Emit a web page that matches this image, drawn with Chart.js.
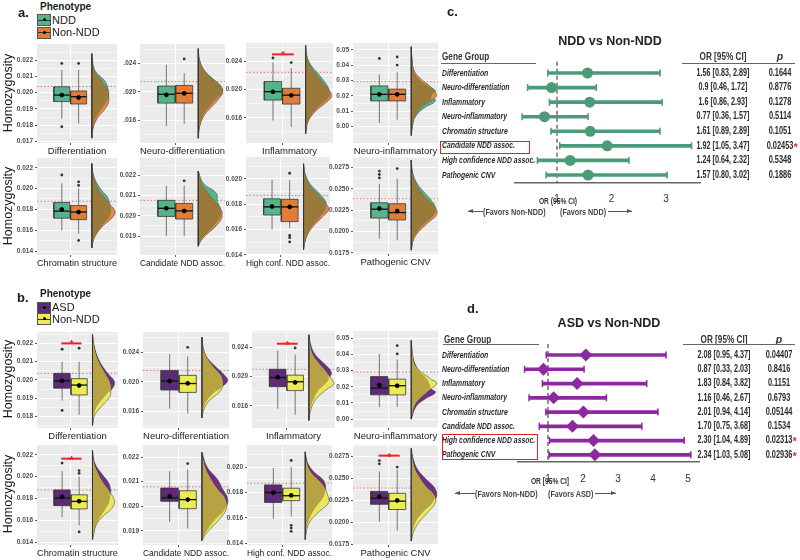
<!DOCTYPE html>
<html lang="en">
<head>
<meta charset="UTF-8">
<title>Homozygosity by phenotype and gene group odds ratios</title>
<script src="https://cdn.jsdelivr.net/npm/chart.js"></script>
<style>
  body { margin: 0; background: #fff; }
  #fig { position: relative; width: 800px; height: 560px; overflow: hidden; font-family: "Liberation Sans", Arial, sans-serif; }
  #fig canvas { position: absolute; }
  .t { position: absolute; white-space: nowrap; color: #1a1a1a; line-height: 1; }
  .key { position: absolute; width: 12px; height: 10px; border: 1px solid #555; }
  .key::before { content: ''; position: absolute; left: 0; right: 0; top: 4.5px; border-top: 1px solid #333; }
  .key::after { content: ''; position: absolute; left: 4.5px; top: 3px; width: 3px; height: 3px; background: #000; border-radius: 50%; }
  .hl { position: absolute; border: 1.5px solid #e3221c; }
  .rule { position: absolute; height: 0; border-top: 1px solid #666; }
  .arr { position: absolute; height: 0; border-top: 1px solid #555; }
</style>
</head>
<body>
<div id="fig"></div>
<script>
const FONT = '"Liberation Sans", Arial, sans-serif';

// ---------- panel a : NDD vs Non-NDD ----------
const panelTitles = ['Differentiation', 'Neuro-differentiation', 'Inflammatory', 'Neuro-inflammatory',
  'Chromatin structure', 'Candidate NDD assoc.', 'High conf. NDD assoc.', 'Pathogenic CNV'];

const yRangeA = [[0.0169, 0.0230], [0.01283, 0.02676], [0.01242, 0.02665], [-0.0109, 0.0545],
  [0.01363, 0.02294], [0.01807, 0.02285], [0.01399, 0.02174], [0.01735, 0.02877]];
const yTicksA = [
  [0.017, 0.018, 0.019, 0.020, 0.021, 0.022],
  [0.016, 0.020, 0.024],
  [0.016, 0.020, 0.024],
  [0.00, 0.01, 0.02, 0.03, 0.04, 0.05],
  [0.014, 0.016, 0.018, 0.020, 0.022],
  [0.019, 0.020, 0.021, 0.022],
  [0.014, 0.016, 0.018, 0.020],
  [0.0175, 0.0200, 0.0225, 0.0250, 0.0275]];
const yTickLabelsA = [
  ['0.017', '0.018', '0.019', '0.020', '0.021', '0.022'],
  ['.016', '.020', '.024'],
  ['0.016', '0.020', '0.024'],
  ['0.00', '0.01', '0.02', '0.03', '0.04', '0.05'],
  ['0.014', '0.016', '0.018', '0.020', '0.022'],
  ['0.019', '0.020', '0.021', '0.022'],
  ['0.014', '0.016', '0.018', '0.020'],
  ['0.0175', '0.0200', '0.0225', '0.0250', '0.0275']];

// box stats: [lower whisker, q1, median, q3, upper whisker]
const boxNDD = [
  [0.0184, 0.01945, 0.01985, 0.02036, 0.0214],
  [0.01517, 0.01844, 0.01968, 0.02083, 0.02382],
  [0.01562, 0.01852, 0.01972, 0.02116, 0.02386],
  [0.0021, 0.0166, 0.0209, 0.0264, 0.0338],
  [0.01597, 0.01716, 0.01784, 0.01866, 0.0205],
  [0.0190, 0.01997, 0.02037, 0.02076, 0.02148],
  [0.0160, 0.01715, 0.01779, 0.01843, 0.01994],
  [0.01916, 0.02158, 0.02262, 0.02338, 0.02561]];
const meanNDD = [0.01985, 0.0196, 0.0197, 0.0209, 0.0180, 0.02037, 0.01782, 0.0227];
const outNDD = [[0.0218, 0.0179], [], [0.0245], [0.0443], [0.0213], [], [], [0.0271, 0.0267, 0.0263]];

const boxNonA = [
  [0.0181, 0.0193, 0.01975, 0.0201, 0.0214],
  [0.01555, 0.01844, 0.01982, 0.02092, 0.02266],
  [0.0147, 0.01795, 0.01922, 0.0202, 0.02306],
  [0.0043, 0.0166, 0.0209, 0.0243, 0.0354],
  [0.01566, 0.01702, 0.01775, 0.01837, 0.02002],
  [0.0190, 0.01984, 0.02024, 0.02061, 0.0215],
  [0.01611, 0.01663, 0.01779, 0.01839, 0.0199],
  [0.01896, 0.02135, 0.02222, 0.02326, 0.0262]];
const meanNonA = [0.0197, 0.0198, 0.0192, 0.0209, 0.01775, 0.02024, 0.01779, 0.0224];
const outNonA = [[0.0218], [0.02465], [0.02386], [0.040, 0.0453], [0.02065, 0.0203, 0.01503], [0.02172],
  [0.02045, 0.01554, 0.01536, 0.01502], [0.0274]];

const thresholdA = [0.02038, 0.02147, 0.02247, 0.0292, 0.01878, 0.02076, 0.0187, 0.02384];
const signifA = [null, null, 0.02502, null, null, null, null, null];

// half-violin densities: y knots and relative widths per group
const densYA = [
  [0.0224, 0.0214, 0.0207, 0.0202, 0.0198, 0.0194, 0.0190, 0.0184, 0.0178, 0.0172],
  [0.0261, 0.0245, 0.0230, 0.0218, 0.0208, 0.0200, 0.0190, 0.0180, 0.0168, 0.0152, 0.0135],
  [0.0263, 0.0248, 0.0235, 0.0222, 0.0210, 0.0200, 0.0191, 0.0182, 0.0170, 0.0155, 0.0137],
  [0.052, 0.044, 0.036, 0.030, 0.026, 0.023, 0.020, 0.0165, 0.012, 0.006, 0.0, -0.006],
  [0.0224, 0.0212, 0.0200, 0.0192, 0.0185, 0.0178, 0.0172, 0.0165, 0.0157, 0.0150, 0.0143],
  [0.0222, 0.0216, 0.0211, 0.0207, 0.0203, 0.0199, 0.0195, 0.0191, 0.0188, 0.0185],
  [0.0212, 0.0203, 0.0195, 0.0188, 0.0181, 0.0176, 0.0170, 0.0163, 0.0156, 0.0150, 0.0144],
  [0.0284, 0.0270, 0.0258, 0.0248, 0.0238, 0.0228, 0.0220, 0.0210, 0.0200, 0.0190, 0.0178]];
const densNDD = [
  [0, 0.12, 0.55, 0.68, 0.7, 0.6, 0.4, 0.15, 0.04, 0],
  [0, 0.05, 0.25, 0.6, 0.9, 0.95, 0.7, 0.45, 0.2, 0.05, 0],
  [0, 0.05, 0.2, 0.5, 0.75, 0.9, 0.92, 0.7, 0.35, 0.08, 0],
  [0, 0.03, 0.1, 0.35, 0.7, 0.95, 0.8, 0.95, 0.5, 0.15, 0.05, 0],
  [0, 0.08, 0.35, 0.65, 0.75, 0.8, 0.7, 0.45, 0.2, 0.06, 0],
  [0, 0.2, 0.72, 0.75, 0.88, 0.85, 0.6, 0.3, 0.1, 0],
  [0, 0.08, 0.3, 0.65, 0.9, 0.88, 0.65, 0.35, 0.15, 0.05, 0],
  [0, 0.05, 0.2, 0.45, 0.75, 0.95, 0.9, 0.55, 0.25, 0.08, 0]];
const densNonA = [
  [0, 0.08, 0.42, 0.62, 0.7, 0.7, 0.55, 0.22, 0.05, 0],
  [0, 0.05, 0.22, 0.55, 0.85, 0.96, 0.8, 0.55, 0.25, 0.06, 0],
  [0, 0.04, 0.15, 0.4, 0.65, 0.88, 1.0, 0.8, 0.4, 0.1, 0],
  [0, 0.03, 0.12, 0.45, 0.75, 0.9, 1.0, 0.75, 0.35, 0.12, 0.04, 0],
  [0, 0.06, 0.25, 0.5, 0.75, 0.97, 0.85, 0.5, 0.2, 0.05, 0],
  [0, 0.12, 0.4, 0.65, 0.9, 0.92, 0.7, 0.35, 0.12, 0],
  [0, 0.06, 0.22, 0.55, 0.85, 1.0, 0.75, 0.4, 0.15, 0.05, 0],
  [0, 0.04, 0.15, 0.35, 0.62, 0.95, 1.0, 0.65, 0.3, 0.08, 0]];

// ---------- panel b : ASD vs Non-NDD ----------
const yRangeB = [[0.01737, 0.02263], [0.01373, 0.0268], [0.01298, 0.02623], [-0.00545, 0.0544],
  [0.01374, 0.0229], [0.01842, 0.0225], [0.01387, 0.02175], [0.01745, 0.0288]];
const yTicksB = [
  [0.018, 0.019, 0.020, 0.021, 0.022],
  [0.016, 0.020, 0.024],
  [0.016, 0.020, 0.024],
  [0.00, 0.01, 0.02, 0.03, 0.04, 0.05],
  [0.014, 0.016, 0.018, 0.020, 0.022],
  [0.019, 0.020, 0.021, 0.022],
  [0.014, 0.016, 0.018, 0.020],
  [0.0175, 0.0200, 0.0225, 0.0250, 0.0275]];
const yTickLabelsB = [
  ['0.018', '0.019', '0.020', '0.021', '0.022'],
  ['0.016', '0.020', '0.024'],
  ['0.016', '0.020', '0.024'],
  ['0.00', '0.01', '0.02', '0.03', '0.04', '0.05'],
  ['0.014', '0.016', '0.018', '0.020', '0.022'],
  ['0.019', '0.020', '0.021', '0.022'],
  ['0.014', '0.016', '0.018', '0.020'],
  ['0.0175', '0.0200', '0.0225', '0.0250', '0.0275']];

const boxASD = [
  [0.01887, 0.01955, 0.01995, 0.02036, 0.0210],
  [0.01636, 0.01889, 0.02013, 0.02156, 0.02377],
  [0.01562, 0.01862, 0.01987, 0.02099, 0.02354],
  [0.00745, 0.01497, 0.0192, 0.02624, 0.0402],
  [0.01629, 0.01734, 0.01803, 0.01878, 0.0205],
  [0.01936, 0.0202, 0.02034, 0.02074, 0.02143],
  [0.01594, 0.01722, 0.018, 0.0186, 0.01994],
  [0.02009, 0.02206, 0.02276, 0.02353, 0.0258]];
const meanASD = [0.01995, 0.0201, 0.0199, 0.0210, 0.01815, 0.0204, 0.0180, 0.02294];
const outASD = [[0.02168, 0.01833], [], [], [], [0.02124], [], [], [0.02702, 0.02665]];

const boxNonB = [
  [0.0181, 0.01918, 0.01972, 0.02007, 0.0210],
  [0.0157, 0.01857, 0.01978, 0.02089, 0.02347],
  [0.0148, 0.01808, 0.01929, 0.02019, 0.02301],
  [0.0075, 0.01497, 0.0206, 0.02467, 0.0368],
  [0.01554, 0.01704, 0.01773, 0.01833, 0.0200],
  [0.01909, 0.0199, 0.02027, 0.02063, 0.0215],
  [0.01612, 0.01736, 0.01775, 0.01834, 0.0200],
  [0.01909, 0.02147, 0.02242, 0.02331, 0.0260]];
const meanNonB = [0.0197, 0.0198, 0.0192, 0.0206, 0.01775, 0.02027, 0.01778, 0.0225];
const outNonB = [[0.02174], [0.0247], [0.0239], [0.0402, 0.0453], [0.02055, 0.0203, 0.01494], [0.02174],
  [0.02053, 0.01542, 0.0152, 0.01495], [0.02628]];

const thresholdB = [0.02036, 0.02156, 0.02099, 0.0291, 0.01878, 0.02079, 0.01873, 0.02391];
const signifB = [0.0220, null, 0.02448, null, 0.02164, null, null, 0.02758];

const densYB = [
  [0.0225, 0.0217, 0.0210, 0.0204, 0.0199, 0.0195, 0.0191, 0.0186, 0.0181, 0.0175],
  [0.0261, 0.0245, 0.0232, 0.0220, 0.0210, 0.0202, 0.0194, 0.0185, 0.0175, 0.0163, 0.0151],
  [0.0257, 0.0243, 0.0230, 0.0218, 0.0206, 0.0197, 0.0190, 0.0182, 0.0170, 0.0155, 0.0140],
  [0.0485, 0.040, 0.034, 0.029, 0.025, 0.022, 0.019, 0.0165, 0.013, 0.008, 0.0],
  [0.0224, 0.0212, 0.0202, 0.0194, 0.0186, 0.0178, 0.0171, 0.0164, 0.0156, 0.0148, 0.0142],
  [0.0222, 0.0216, 0.0211, 0.0207, 0.0203, 0.0199, 0.0195, 0.0191, 0.0188, 0.0186],
  [0.0212, 0.0203, 0.0196, 0.0190, 0.0184, 0.0178, 0.0172, 0.0165, 0.0157, 0.0150, 0.0143],
  [0.0284, 0.0272, 0.0260, 0.0250, 0.0240, 0.0231, 0.0223, 0.0213, 0.0202, 0.0190, 0.0179]];
const densASD = [
  [0, 0.1, 0.3, 0.6, 0.9, 0.8, 0.5, 0.2, 0.06, 0],
  [0, 0.06, 0.22, 0.55, 0.85, 1.0, 0.8, 0.45, 0.2, 0.05, 0],
  [0, 0.08, 0.25, 0.6, 0.9, 0.8, 0.65, 0.4, 0.2, 0.05, 0],
  [0, 0.05, 0.15, 0.35, 0.6, 0.7, 0.75, 0.95, 0.6, 0.2, 0],
  [0, 0.1, 0.4, 0.67, 0.75, 0.7, 0.55, 0.35, 0.15, 0.05, 0],
  [0, 0.2, 0.6, 0.8, 1.0, 0.9, 0.55, 0.25, 0.08, 0],
  [0, 0.1, 0.35, 0.7, 0.8, 0.75, 0.55, 0.3, 0.12, 0.04, 0],
  [0, 0.08, 0.25, 0.55, 0.9, 1.0, 0.85, 0.5, 0.2, 0.06, 0]];
const densNonB = [
  [0, 0.08, 0.25, 0.5, 0.7, 0.75, 0.72, 0.4, 0.1, 0],
  [0, 0.05, 0.2, 0.45, 0.7, 0.8, 0.8, 0.65, 0.3, 0.08, 0],
  [0, 0.05, 0.15, 0.4, 0.7, 0.9, 1.0, 0.7, 0.3, 0.08, 0],
  [0, 0.05, 0.12, 0.4, 0.75, 1.0, 0.8, 0.6, 0.35, 0.12, 0],
  [0, 0.06, 0.25, 0.45, 0.7, 0.91, 0.8, 0.45, 0.15, 0.05, 0],
  [0, 0.12, 0.35, 0.6, 0.9, 0.95, 0.7, 0.35, 0.1, 0],
  [0, 0.06, 0.22, 0.5, 0.75, 0.88, 0.92, 0.55, 0.18, 0.05, 0],
  [0, 0.05, 0.15, 0.35, 0.6, 0.9, 0.95, 0.7, 0.35, 0.1, 0]];

// ---------- panels c / d : odds ratios ----------
const geneGroups = ['Differentiation', 'Neuro-differentiation', 'Inflammatory', 'Neuro-inflammatory',
  'Chromatin structure', 'Candidate NDD assoc.', 'High confidence NDD assoc.', 'Pathogenic CNV'];

const orNDD = [1.56, 0.9, 1.6, 0.77, 1.61, 1.92, 1.24, 1.57];
const loNDD = [0.83, 0.46, 0.86, 0.36, 0.89, 1.05, 0.64, 0.80];
const hiNDD = [2.89, 1.72, 2.93, 1.57, 2.89, 3.47, 2.32, 3.02];
const orTextNDD = ['1.56 [0.83, 2.89]', '0.9 [0.46, 1.72]', '1.6 [0.86, 2.93]', '0.77 [0.36, 1.57]',
  '1.61 [0.89, 2.89]', '1.92 [1.05, 3.47]', '1.24 [0.64, 2.32]', '1.57 [0.80, 3.02]'];
const pNDD = ['0.1644', '0.8776', '0.1278', '0.5114', '0.1051', '0.02453', '0.5348', '0.1886'];
const sigNDD = [false, false, false, false, false, true, false, false];
const xTicksNDD = [1, 2, 3];

const orASD = [2.08, 0.87, 1.83, 1.16, 2.01, 1.70, 2.30, 2.34];
const loASD = [0.95, 0.33, 0.84, 0.46, 0.94, 0.75, 1.04, 1.03];
const hiASD = [4.37, 2.03, 3.82, 2.67, 4.14, 3.68, 4.89, 5.08];
const orTextASD = ['2.08 [0.95, 4.37]', '0.87 [0.33, 2.03]', '1.83 [0.84, 3.82]', '1.16 [0.46, 2.67]',
  '2.01 [0.94, 4.14]', '1.70 [0.75, 3.68]', '2.30 [1.04, 4.89]', '2.34 [1.03, 5.08]'];
const pASD = ['0.04407', '0.8416', '0.1151', '0.6793', '0.05144', '0.1534', '0.02313', '0.02936'];
const sigASD = [false, false, false, false, false, false, true, true];
const xTicksASD = [1, 2, 3, 4, 5];

// ---------- layout ----------
const fig = document.getElementById('fig');
const BOX1 = 0.31, BOX2 = 0.52, HALF = 0.1, GRID_X = 0.415, DENS_BASE = 0.685, DENS_W = 0.3;
// gray panel rectangles [left, top, width, height]
const GEO_A = [[37, 42, 80, 101], [140, 42, 85, 101], [246, 41, 87, 102], [353, 41, 85, 102],
  [37, 156, 80, 99], [140, 156, 85, 99], [246, 155, 84, 100], [353, 155, 85, 99]];
const GEO_B = [[37, 330, 81, 98], [143, 330, 86, 98], [252, 329, 83, 99], [353, 329, 85, 99],
  [37, 443, 81, 102], [143, 443, 86, 102], [247, 443, 85, 102], [353, 443, 85, 102]];
const COL_A = { boxA: '#55b48c', boxB: '#e07d37', densA: '#52b68e', densB: '#e6884a', mix: '#9a7a3a' };
const COL_B = { boxA: '#5e2a78', boxB: '#ebeb52', densA: '#6e2f86', densB: '#e8e85e', mix: '#b7a343' };

// absolutely placed text; sx squeezes the glyphs horizontally (condensed look)
function txt(s, x, y, css, anchor, sx) {
  const d = document.createElement('div');
  d.className = 't';
  d.textContent = s;
  d.style.cssText += css;
  d.style.left = x + 'px';
  d.style.top = y + 'px';
  const tx = anchor === 'c' ? '-50%' : anchor === 'r' ? '-100%' : '0';
  const origin = anchor === 'c' ? 'center' : anchor === 'r' ? 'right' : 'left';
  d.style.transformOrigin = origin + ' center';
  d.style.transform = 'translate(' + tx + ', -50%)' + (sx ? ' scaleX(' + sx + ')' : '');
  fig.appendChild(d);
  return d;
}
function box(cls, x, y, w, h, css) {
  const d = document.createElement('div');
  d.className = cls;
  d.style.left = x + 'px'; d.style.top = y + 'px';
  if (w != null) d.style.width = w + 'px';
  if (h != null) d.style.height = h + 'px';
  if (css) d.style.cssText += css;
  fig.appendChild(d);
  return d;
}
function arrow(x1, x2, y, dir) {
  box('arr', x1, y, x2 - x1, null);
  const tip = dir === 'l' ? x1 : x2;
  const head = document.createElement('div');
  head.style.cssText = 'position:absolute;width:0;height:0;border-top:2.5px solid transparent;border-bottom:2.5px solid transparent;' +
    (dir === 'l' ? 'border-right:5px solid #555;' : 'border-left:5px solid #555;');
  head.style.left = (dir === 'l' ? tip : tip - 5) + 'px';
  head.style.top = (y - 2) + 'px';
  fig.appendChild(head);
}
function newCanvas(left, top, w, h) {
  const cv = document.createElement('canvas');
  cv.width = w; cv.height = h;
  cv.style.left = left + 'px'; cv.style.top = top + 'px';
  cv.style.width = w + 'px'; cv.style.height = h + 'px';
  fig.appendChild(cv);
  return cv;
}

function withMinor(ticks, range) {
  const step = ticks[1] - ticks[0];
  const all = [ticks[0] - step / 2];
  ticks.forEach(t => { all.push(t, t + step / 2); });
  return all.filter(v => v >= range[0] - 1e-12 && v <= range[1] + 1e-12);
}

const line = (data, color, width, extra) => Object.assign({
  data, showLine: true, borderColor: color, borderWidth: width, pointRadius: 0, fill: false
}, extra);

const bgPlugin = {
  id: 'panelBg',
  beforeDraw(chart) {
    const a = chart.chartArea, ctx = chart.ctx;
    ctx.save(); ctx.fillStyle = '#ebebeb';
    ctx.fillRect(a.left, a.top, a.right - a.left, a.bottom - a.top);
    ctx.restore();
  }
};

function rainPanel(geo, s) {
  const [gl, gt, gw, gh] = geo;
  const W = 32 + gw + 10, H = gh + 4 + 16;
  const cv = newCanvas(gl - 32, gt - 4, W, H);
  const isMajor = v => s.ticks.some(t => Math.abs(t - v) < 1e-9);
  const densPts = w => s.dy.map((y, i) => ({ x: DENS_BASE + DENS_W * w[i], y }));
  const overlap = s.da.map((v, i) => Math.min(v, s.db[i]));
  const boxPts = (c, b) => [{ x: c - HALF, y: b[1] }, { x: c + HALF, y: b[1] }, { x: c + HALF, y: b[3] },
    { x: c - HALF, y: b[3] }, { x: c - HALF, y: b[1] }];

  const datasets = [
    line([{ x: 0, y: s.thr }, { x: 1, y: s.thr }], '#e36a6a', 0.9, { borderDash: [1.5, 2], order: 10 }),
    line(densPts(s.da), '#333', 0.5, { fill: 'shape', backgroundColor: s.col.densA, tension: 0.4, order: 9 }),
    line(densPts(s.db), '#333', 0.5, { fill: 'shape', backgroundColor: s.col.densB, tension: 0.4, order: 8 }),
    line(densPts(overlap), 'rgba(0,0,0,0)', 0, { fill: 'shape', backgroundColor: s.col.mix, tension: 0.4, order: 7 }),
    line([{ x: DENS_BASE, y: s.dy[0] }, { x: DENS_BASE, y: s.dy[s.dy.length - 1] }], '#333', 0.8, { order: 6 }),
    line([{ x: BOX1, y: s.boxA[0] }, { x: BOX1, y: s.boxA[4] }], '#555', 0.8, { order: 6 }),
    line([{ x: BOX2, y: s.boxB[0] }, { x: BOX2, y: s.boxB[4] }], '#555', 0.8, { order: 6 }),
    line(boxPts(BOX1, s.boxA), '#3a3a3a', 0.8, { fill: 'shape', backgroundColor: s.col.boxA, order: 5 }),
    line(boxPts(BOX2, s.boxB), '#3a3a3a', 0.8, { fill: 'shape', backgroundColor: s.col.boxB, order: 5 }),
    line([{ x: BOX1 - HALF, y: s.boxA[2] }, { x: BOX1 + HALF, y: s.boxA[2] }], '#111', 1.3, { order: 4 }),
    line([{ x: BOX2 - HALF, y: s.boxB[2] }, { x: BOX2 + HALF, y: s.boxB[2] }], '#111', 1.3, { order: 4 }),
    { data: [{ x: BOX1, y: s.meanA }, { x: BOX2, y: s.meanB }], pointRadius: 1.9, pointBackgroundColor: '#000',
      pointBorderColor: '#000', order: 3 },
    { data: s.outA.map(y => ({ x: BOX1, y })).concat(s.outB.map(y => ({ x: BOX2, y }))), pointRadius: 1.4,
      pointBackgroundColor: '#333', pointBorderWidth: 0, order: 3 }
  ];
  if (s.sig != null) {
    datasets.push(line([{ x: BOX1 - 0.01, y: s.sig }, { x: BOX2 + 0.03, y: s.sig }], '#e8262a', 2, { order: 1 }));
  }

  const starPlugin = {
    id: 'star',
    afterDatasetsDraw(chart) {
      if (s.sig == null) return;
      const ctx = chart.ctx;
      ctx.save();
      ctx.fillStyle = '#e8262a';
      ctx.font = 'bold 10px ' + FONT;
      ctx.textAlign = 'center';
      ctx.textBaseline = 'alphabetic';
      ctx.fillText('*', chart.scales.x.getPixelForValue((BOX1 + BOX2) / 2 + 0.01), chart.scales.y.getPixelForValue(s.sig) + 5);
      ctx.restore();
    }
  };

  new Chart(cv, {
    type: 'scatter',
    data: { datasets },
    plugins: [bgPlugin, starPlugin],
    options: {
      responsive: false, animation: false, events: [],
      layout: { padding: { top: 4, right: 10, left: 0, bottom: 0 } },
      plugins: { legend: { display: false }, tooltip: { enabled: false } },
      scales: {
        x: {
          type: 'linear', min: 0, max: 1,
          afterBuildTicks: sc => { sc.ticks = [{ value: GRID_X }]; },
          afterFit: sc => { sc.height = 16; },
          ticks: { display: false },
          grid: { color: '#fff', lineWidth: 1, tickLength: 2, tickColor: '#555' },
          border: { display: false },
          title: { display: true, text: s.title, font: { size: 9.5, family: FONT }, color: '#1a1a1a', padding: { top: 0, bottom: 2 } }
        },
        y: {
          min: s.range[0], max: s.range[1],
          afterBuildTicks: sc => { sc.ticks = withMinor(s.ticks, s.range).map(v => ({ value: v })); },
          afterFit: sc => { sc.width = 32; },
          ticks: {
            autoSkip: false, padding: 2, color: '#4d4d4d',
            font: { size: 6.5, weight: 'bold', family: FONT },
            callback: v => {
              const i = s.ticks.findIndex(t => Math.abs(t - v) < 1e-9);
              return i < 0 ? '' : s.labels[i];
            }
          },
          grid: {
            color: '#fff',
            lineWidth: c => (c.tick && isMajor(c.tick.value)) ? 1 : 0.5,
            tickColor: c => (c.tick && isMajor(c.tick.value)) ? '#555' : 'rgba(0,0,0,0)',
            tickLength: 2
          },
          border: { display: false }
        }
      }
    }
  });
}

for (let i = 0; i < 8; i++) {
  rainPanel(GEO_A[i], {
    title: panelTitles[i], range: yRangeA[i], ticks: yTicksA[i], labels: yTickLabelsA[i],
    boxA: boxNDD[i], boxB: boxNonA[i], meanA: meanNDD[i], meanB: meanNonA[i], outA: outNDD[i], outB: outNonA[i],
    thr: thresholdA[i], sig: signifA[i], dy: densYA[i], da: densNDD[i], db: densNonA[i], col: COL_A
  });
  rainPanel(GEO_B[i], {
    title: panelTitles[i], range: yRangeB[i], ticks: yTicksB[i], labels: yTickLabelsB[i],
    boxA: boxASD[i], boxB: boxNonB[i], meanA: meanASD[i], meanB: meanNonB[i], outA: outASD[i], outB: outNonB[i],
    thr: thresholdB[i], sig: signifB[i], dy: densYB[i], da: densASD[i], db: densNonB[i], col: COL_B
  });
}

// shared labels of panels a and b
[92.5, 205.5, 379, 494].forEach(cy => {
  const d = txt('Homozygosity', 8, cy, 'font:12.5px ' + FONT + ';', 'c');
  d.style.transform = 'translate(-50%, -50%) rotate(-90deg)';
});
txt('a.', 18, 12, 'font:bold 13px ' + FONT + ';');
txt('Phenotype', 40, 6, 'font:bold 10px ' + FONT + ';');
box('key', 37, 14, null, null, 'background:' + COL_A.boxA + ';');
txt('NDD', 52, 19.5, 'font:11px ' + FONT + ';');
box('key', 37, 26.5, null, null, 'background:' + COL_A.boxB + ';');
txt('Non-NDD', 52, 32, 'font:11px ' + FONT + ';');
txt('b.', 17, 296.5, 'font:bold 13px ' + FONT + ';');
txt('Phenotype', 40, 293, 'font:bold 10px ' + FONT + ';');
box('key', 37, 301.5, null, null, 'background:' + COL_B.boxA + ';');
txt('ASD', 52, 307, 'font:11px ' + FONT + ';');
box('key', 37, 313, null, null, 'background:' + COL_B.boxB + ';');
txt('Non-NDD', 52, 318.5, 'font:11px ' + FONT + ';');

// ---------- forest plots ----------
function squeezedText(ctx, s, x, y, sx, align) {
  ctx.save();
  ctx.translate(x, y);
  ctx.scale(sx, 1);
  ctx.textAlign = align;
  ctx.fillText(s, 0, 0);
  ctx.restore();
}

function forestPlot(g, f) {
  const cv = newCanvas(g.left, g.top, g.w, g.h);
  const colText = {
    id: 'colText',
    beforeDatasetsDraw(chart) {
      const { ctx, scales: { x }, chartArea } = chart;
      const x1 = x.getPixelForValue(1);
      ctx.save();
      ctx.setLineDash([4, 3]);
      ctx.strokeStyle = '#555';
      ctx.lineWidth = 1.3;
      ctx.beginPath();
      ctx.moveTo(x1, chartArea.top - 4);
      ctx.lineTo(x1, chartArea.bottom);
      ctx.stroke();
      ctx.restore();
    },
    afterDatasetsDraw(chart) {
      const { ctx, scales: { y } } = chart;
      ctx.save();
      ctx.textBaseline = 'middle';
      chart.data.labels.forEach((lab, i) => {
        const py = y.getPixelForValue(i);
        ctx.fillStyle = '#2a2a2a';
        ctx.font = 'italic bold 9.5px ' + FONT;
        squeezedText(ctx, lab, 2, py, 0.72, 'left');
        ctx.font = 'bold 10px ' + FONT;
        squeezedText(ctx, f.text[i], g.orX, py, 0.72, 'center');
        squeezedText(ctx, f.p[i], g.pX, py, 0.74, 'center');
        if (f.sig[i]) {
          const w = ctx.measureText(f.p[i]).width * 0.74;
          ctx.fillStyle = '#e3221c';
          ctx.font = 'bold 10px ' + FONT;
          ctx.textAlign = 'left';
          ctx.fillText('*', g.pX + w / 2 + 0.5, py + 2);
        }
      });
      ctx.restore();
    }
  };
  new Chart(cv, {
    type: 'bar',
    data: {
      labels: geneGroups,
      datasets: [
        { type: 'bar', indexAxis: 'y', data: f.lo.map((l, i) => [l, f.hi[i]]), backgroundColor: f.color,
          barThickness: 3, order: 4 },
        { type: 'line', indexAxis: 'y', data: f.lo, showLine: false, pointStyle: 'line', pointRotation: 90,
          pointRadius: 3.5, pointBorderColor: f.color, pointBorderWidth: 1.5, order: 3 },
        { type: 'line', indexAxis: 'y', data: f.hi, showLine: false, pointStyle: 'line', pointRotation: 90,
          pointRadius: 3.5, pointBorderColor: f.color, pointBorderWidth: 1.5, order: 2 },
        { type: 'line', indexAxis: 'y', data: f.or, showLine: false, pointStyle: f.marker, pointRadius: f.size,
          pointBackgroundColor: f.color, pointBorderColor: f.color, pointBorderWidth: 0, order: 1 }
      ]
    },
    plugins: [colText],
    options: {
      indexAxis: 'y', responsive: false, animation: false, events: [],
      layout: { padding: { top: g.padTop, right: g.padRight, left: 0, bottom: 0 } },
      plugins: { legend: { display: false }, tooltip: { enabled: false } },
      scales: {
        x: {
          type: 'linear', min: g.min, max: g.max,
          afterBuildTicks: sc => { sc.ticks = f.xTicks.map(v => ({ value: v })); },
          afterFit: sc => { sc.height = g.xH; },
          grid: { display: false },
          border: { display: true, color: '#666', width: 1.5 },
          ticks: { font: { size: 10, family: FONT }, color: '#333', padding: 3 }
        },
        y: {
          type: 'category', offset: true,
          afterFit: sc => { sc.width = g.yW; },
          grid: { display: false },
          border: { display: false },
          ticks: { display: false }
        }
      }
    }
  });
}

forestPlot({ left: 440, top: 45, w: 360, h: 178, padTop: 20.7, padRight: 100, yW: 75, xH: 40.7,
  min: 0.229, max: 3.624, orX: 283, pX: 340 },
  { lo: loNDD, hi: hiNDD, or: orNDD, text: orTextNDD, p: pNDD, sig: sigNDD, xTicks: xTicksNDD,
    color: '#4b9b78', marker: 'circle', size: 5.5 });
forestPlot({ left: 440, top: 330, w: 360, h: 165, padTop: 17.9, padRight: 101, yW: 78, xH: 33,
  min: 0.143, max: 5.314, orX: 284, pX: 339 },
  { lo: loASD, hi: hiASD, or: orASD, text: orTextASD, p: pASD, sig: sigASD, xTicks: xTicksASD,
    color: '#8c28a0', marker: 'rectRot', size: 6.5 });

// titles, headers and notes of panels c and d
const hdr = 'font:bold 10.5px ' + FONT + ';color:#333;';
const note = 'font:bold 9.5px ' + FONT + ';color:#444;';
txt('c.', 447, 11, 'font:bold 13px ' + FONT + ';');
txt('NDD vs Non-NDD', 610, 41, 'font:bold 12.5px ' + FONT + ';color:#222;', 'c');
txt('Gene Group', 442, 56, hdr, 'l', 0.78);
box('rule', 441, 62.5, 95, null);
txt('OR [95%  CI]', 723, 56, hdr, 'c', 0.78);
txt('p', 780, 56, hdr + 'font-style:italic;', 'c');
box('rule', 682, 62.5, 113, null);
txt('OR (95% CI)', 558, 201, 'font:bold 9px ' + FONT + ';color:#333;', 'c', 0.74);
arrow(468, 483, 211, 'l');
txt('(Favors Non-NDD)', 483, 211, note, 'l', 0.76);
txt('(Favors NDD)', 560, 211, note, 'l', 0.76);
arrow(608, 632, 211, 'r');
box('hl', 440, 140.5, 88, 11);

txt('d.', 467, 308, 'font:bold 13px ' + FONT + ';');
txt('ASD vs Non-NDD', 609, 323, 'font:bold 12.5px ' + FONT + ';color:#222;', 'c');
txt('Gene Group', 444, 339, hdr, 'l', 0.78);
box('rule', 443, 343.5, 96, null);
txt('OR [95%  CI]', 724, 339, hdr, 'c', 0.78);
txt('p', 779, 339, hdr + 'font-style:italic;', 'c');
box('rule', 683, 343.5, 112, null);
txt('OR [95% CI]', 550, 481, 'font:bold 9px ' + FONT + ';color:#333;', 'c', 0.74);
arrow(455, 475, 493, 'l');
txt('(Favors Non-NDD)', 475, 493, note, 'l', 0.76);
txt('(Favors ASD)', 548, 493, note, 'l', 0.76);
arrow(595, 616, 493, 'r');
box('hl', 441.5, 434, 94, 24);
</script>
</body>
</html>
